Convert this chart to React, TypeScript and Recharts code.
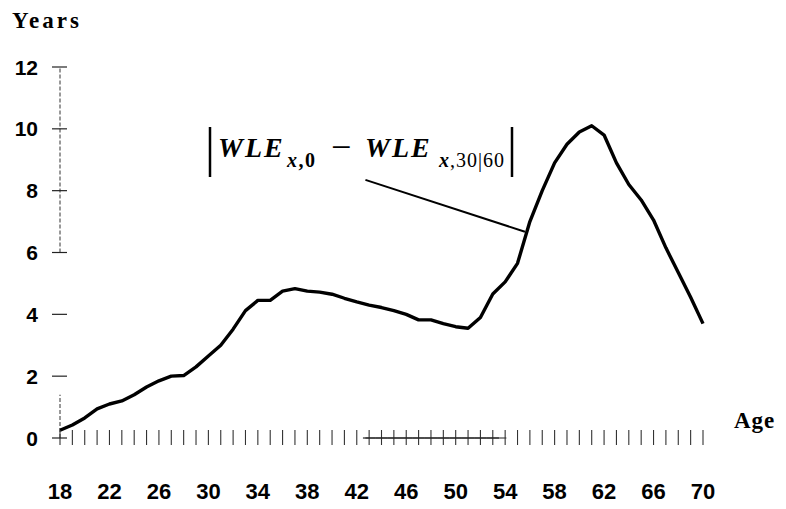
import React from "react";
import { LineChart, Line, XAxis, YAxis, ReferenceLine } from "recharts";

const ages = [
  18, 19, 20, 21, 22, 23, 24, 25, 26, 27, 28, 29, 30, 31, 32, 33, 34, 35, 36, 37, 38, 39, 40, 41, 42, 43,
  44, 45, 46, 47, 48, 49, 50, 51, 52, 53, 54, 55, 56, 57, 58, 59, 60, 61, 62, 63, 64, 65, 66, 67, 68, 69, 70,
];
const wleDiff = [
  0.25, 0.42, 0.65, 0.94, 1.1, 1.2, 1.4, 1.65, 1.85, 2.0, 2.02, 2.3, 2.65, 3.0, 3.52, 4.12, 4.45, 4.45, 4.75,
  4.83, 4.75, 4.72, 4.65, 4.52, 4.4, 4.3, 4.22, 4.12, 4.0, 3.82, 3.82, 3.7, 3.6, 3.55, 3.9, 4.66, 5.05, 5.65,
  7.0, 8.0, 8.9, 9.5, 9.9, 10.1, 9.8, 8.9, 8.2, 7.7, 7.05, 6.15, 5.35, 4.55, 3.7,
];
const xLabelTicks = [18, 22, 26, 30, 34, 38, 42, 46, 50, 54, 58, 62, 66, 70];
const yTicks = [0, 2, 4, 6, 8, 10, 12];
const leader = [
  { x: 42.7, y: 8.35 },
  { x: 55.6, y: 6.67 },
];
const yAxisUpper = [
  { x: 18, y: 6 },
  { x: 18, y: 12 },
];
const yAxisLower = [
  { x: 18, y: 0 },
  { x: 18, y: 1.4 },
];
const baselineStart = 42.7;
const baselineEnd = 54.1;

const data = ages.map((a, i) => ({ age: a, v: wleDiff[i] }));

const numFont = "'Liberation Sans', Arial, sans-serif";
const serif = "'Liberation Serif', 'Times New Roman', serif";

const XTick = (props: any) => {
  const { x, y, payload } = props;
  const age = payload.value;
  const showLabel = xLabelTicks.includes(age);
  const onBase = age >= 43 && age <= 53;
  return (
    <g>
      <line x1={x} x2={x} y1={y - 8} y2={y + 7} stroke="#333" strokeWidth={1.1} />
      {onBase && <line x1={x - 6.2} x2={x + 6.2} y1={y} y2={y} stroke="#222" strokeWidth={1.2} />}
      {showLabel && (
        <text x={x} y={y + 61} textAnchor="middle" fontFamily={numFont} fontWeight="bold" fontSize={22} fill="#000">
          {age}
        </text>
      )}
    </g>
  );
};

const YTick = (props: any) => {
  const { y, payload } = props;
  return (
    <g>
      <line x1={52} x2={67} y1={y} y2={y} stroke="#222" strokeWidth={1.2} />
      <text x={38} y={y + 7.5} textAnchor="end" fontFamily={numFont} fontWeight="bold" fontSize={21} fill="#000">
        {payload.value}
      </text>
    </g>
  );
};

export default function App() {
  return (
    <div style={{ position: "absolute", left: 0, top: 0, width: 786, height: 509, background: "#fff" }}>
      <LineChart
        width={786}
        height={509}
        data={data}
        margin={{ top: 67, right: 83, bottom: 0, left: 0 }}
      >
        <XAxis
          dataKey="age"
          type="number"
          domain={[18, 70]}
          ticks={ages}
          interval={0}
          axisLine={false}
          tickLine={false}
          tickSize={0}
          tickMargin={0}
          height={71}
          tick={<XTick />}
        />
        <YAxis
          type="number"
          domain={[0, 12]}
          ticks={yTicks}
          interval={0}
          axisLine={false}
          tickLine={false}
          tickSize={0}
          tickMargin={0}
          width={60}
          tick={<YTick />}
        />
        <ReferenceLine segment={yAxisUpper} stroke="#333" strokeWidth={1} strokeDasharray="4 2" ifOverflow="visible" />
        <ReferenceLine segment={yAxisLower} stroke="#333" strokeWidth={1} strokeDasharray="4 2" ifOverflow="visible" />
        <ReferenceLine
          segment={[
            { x: baselineStart, y: 0 },
            { x: baselineEnd, y: 0 },
          ]}
          stroke="#222"
          strokeWidth={1.2}
          ifOverflow="visible"
        />
        <ReferenceLine segment={leader} stroke="#000" strokeWidth={2} ifOverflow="visible" />
        <Line
          type="linear"
          dataKey="v"
          stroke="#000"
          strokeWidth={3.4}
          dot={false}
          isAnimationActive={false}
          strokeLinejoin="round"
        />
      </LineChart>
      <svg width={786} height={509} style={{ position: "absolute", left: 0, top: 0, pointerEvents: "none" }}>
        <text x={12} y={28} fontFamily={serif} fontWeight="bold" fontSize={23} letterSpacing={3} fill="#000">
          Years
        </text>
        <text x={734} y={428} fontFamily={serif} fontWeight="bold" fontSize={23} letterSpacing={1} fill="#000">
          Age
        </text>
        <line x1={210} x2={210} y1={127} y2={177} stroke="#000" strokeWidth={2.5} />
        <line x1={512} x2={512} y1={127} y2={177} stroke="#000" strokeWidth={2.5} />
        <text x={218} y={157} fontFamily={serif} fontWeight="bold" fontStyle="italic" fontSize={28} letterSpacing={2} fill="#000">
          WLE
        </text>
        <text x={287} y={167} fontFamily={serif} fontSize={20} letterSpacing={1.5} fill="#000">
          <tspan fontStyle="italic" fontWeight="bold">x</tspan>
          <tspan fontWeight="bold">,0</tspan>
        </text>
        <text x={331} y={159} fontFamily={serif} fontSize={36} fill="#000">
          −
        </text>
        <text x={365} y={157} fontFamily={serif} fontWeight="bold" fontStyle="italic" fontSize={28} letterSpacing={2} fill="#000">
          WLE
        </text>
        <text x={439} y={167} fontFamily={serif} fontSize={20} letterSpacing={1} fill="#000">
          <tspan fontStyle="italic" fontWeight="bold">x</tspan>
          <tspan>,30|60</tspan>
        </text>
      </svg>
    </div>
  );
}
